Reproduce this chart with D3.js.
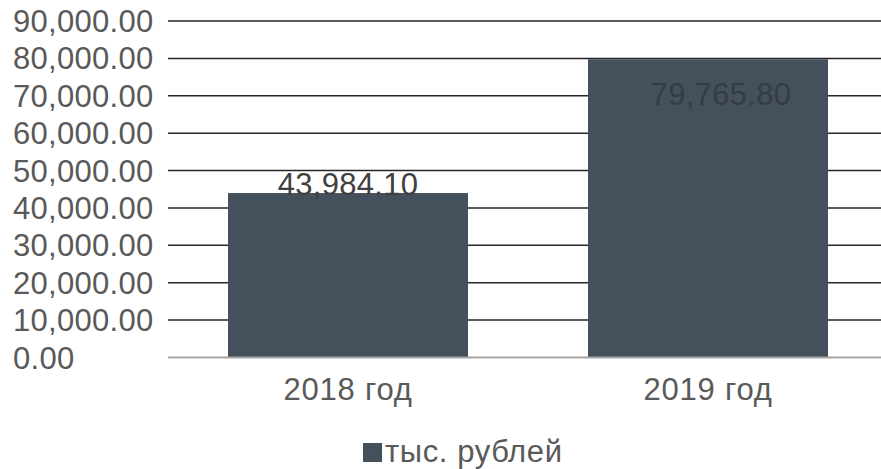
<!doctype html>
<html>
  <head>
    <meta charset="utf-8">
    <title>Bar chart with D3</title>
    <script src="https://cdnjs.cloudflare.com/ajax/libs/d3/7.8.5/d3.min.js"></script>
    <style>
      body { margin: 0; background: #fff; }
      text { font-family: "Liberation Sans", Arial, sans-serif; font-size: 31px; }
    </style>
  </head>
  <body>
    <div id="chart"></div>
    <script>
      // data
      const categories = ['2018 год', '2019 год'];
      const values = [43984.10, 79765.80];
      const seriesName = 'тыс. рублей';
      const yTicks = [0, 10000, 20000, 30000, 40000, 50000, 60000, 70000, 80000, 90000];

      const width = 881, height = 469;
      const svg = d3.select('#chart').append('svg')
        .attr('width', width)
        .attr('height', height);

      const x = d3.scaleBand()
        .domain(categories)
        .range([168, 888])
        .paddingInner(1/3)
        .paddingOuter(1/6);

      const y = d3.scaleLinear()
        .domain([0, 90000])
        .range([357.5, 21]);

      const fmt = d3.format(',.2f');

      // gridlines
      svg.append('g')
        .selectAll('line')
        .data(yTicks.filter(d => d > 0))
        .join('line')
        .attr('x1', 168).attr('x2', width)
        .attr('y1', d => y(d)).attr('y2', d => y(d))
        .attr('stroke', '#262626')
        .attr('stroke-width', 1.5);

      // y tick labels
      svg.append('g')
        .selectAll('text')
        .data(yTicks)
        .join('text')
        .attr('x', 13)
        .attr('y', d => y(d) + 11)
        .attr('fill', '#595959')
        .style('letter-spacing', '0.3px')
        .text(d => fmt(d));

      // bars
      svg.append('g')
        .selectAll('rect')
        .data(values)
        .join('rect')
        .attr('x', (d, i) => x(categories[i]))
        .attr('y', d => y(d))
        .attr('width', x.bandwidth())
        .attr('height', d => y(0) - y(d))
        .attr('fill', '#44505b');

      // zero axis line
      svg.append('line')
        .attr('x1', 168).attr('x2', width)
        .attr('y1', y(0)).attr('y2', y(0))
        .attr('stroke', '#a6a6a6')
        .attr('stroke-width', 2);

      // category labels
      svg.append('g')
        .selectAll('text')
        .data(categories)
        .join('text')
        .attr('x', d => x(d) + x.bandwidth() / 2)
        .attr('y', 400)
        .attr('text-anchor', 'middle')
        .attr('fill', '#595959')
        .style('letter-spacing', '0.8px')
        .text(d => d);

      // data labels (first sits on top of bar, second inside)
      svg.append('g')
        .selectAll('text')
        .data(values)
        .join('text')
        .attr('x', (d, i) => x(categories[i]) + x.bandwidth() / 2 + (i === 1 ? 13 : 0))
        .attr('y', (d, i) => i === 1 ? y(d) + 46 : y(d) + 2)
        .attr('text-anchor', 'middle')
        .attr('fill', (d, i) => i === 1 ? '#353c43' : '#404040')
        .style('letter-spacing', '0.3px')
        .text(d => fmt(d));

      // legend
      const legend = svg.append('g');
      legend.append('rect')
        .attr('x', 363).attr('y', 443)
        .attr('width', 19).attr('height', 19)
        .attr('fill', '#44505b');
      legend.append('text')
        .attr('x', 385).attr('y', 462)
        .attr('fill', '#595959')
        .style('letter-spacing', '0.6px')
        .text(seriesName);
    </script>
  </body>
</html>
